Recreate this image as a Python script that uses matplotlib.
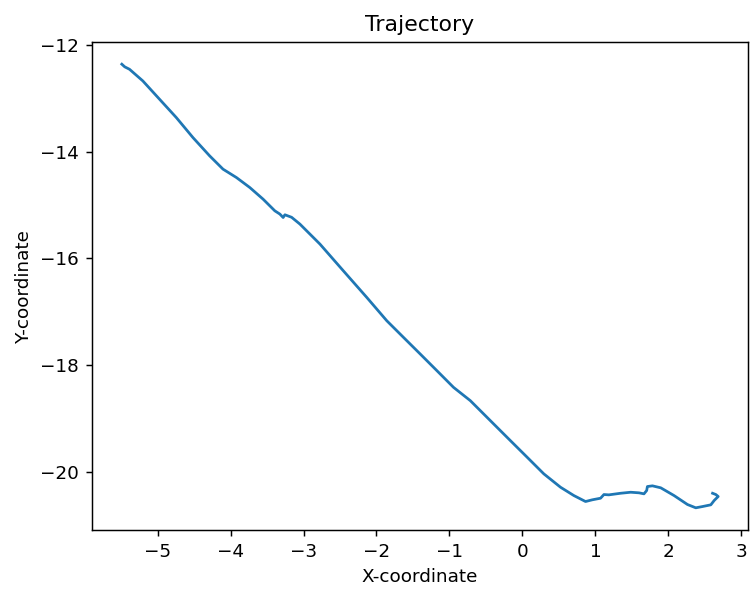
import numpy as np
import matplotlib
matplotlib.use("Agg")
import matplotlib.pyplot as plt

# path
xs = [-5.49, -5.45, -5.385, -5.202, -4.973, -4.743, -4.515, -4.286, -4.103, -3.919, -3.736,
      -3.554, -3.393, -3.324, -3.279, -3.255, -3.163, -3.049, -2.775, -2.455, -2.133,
      -1.859, -1.630, -1.401, -1.172, -0.944, -0.714, -0.440, -0.165, 0.065, 0.293,
      0.522, 0.705, 0.865, 0.957, 1.071, 1.117, 1.185, 1.346, 1.484, 1.598,
      1.666, 1.703, 1.713, 1.782, 1.896, 2.078, 2.262, 2.376, 2.468, 2.582,
      2.628, 2.683, 2.651, 2.606]
ys = [-12.36, -12.41, -12.455, -12.674, -13.017, -13.361, -13.736, -14.079, -14.328, -14.485, -14.672,
      -14.890, -15.109, -15.170, -15.234, -15.183, -15.230, -15.358, -15.732, -16.232, -16.732,
      -17.169, -17.481, -17.792, -18.105, -18.418, -18.667, -19.041, -19.416, -19.728, -20.039,
      -20.290, -20.446, -20.558, -20.526, -20.496, -20.427, -20.433, -20.403, -20.384, -20.395,
      -20.414, -20.352, -20.277, -20.264, -20.301, -20.446, -20.614, -20.676, -20.652, -20.620,
      -20.539, -20.464, -20.427, -20.403]

dpi = 132
fig = plt.figure(figsize=(751 / dpi, 593 / dpi), dpi=dpi)
ax = fig.add_axes([92 / 751, 1 - 530 / 593, 656 / 751, 488 / 593])
ax.plot(xs, ys)
ax.set_title('Trajectory')
ax.set_xlabel('X-coordinate')
ax.set_ylabel('Y-coordinate')
ax.set_yticks(np.arange(-20, -11, 2))

plt.savefig('out.png', dpi=dpi)
